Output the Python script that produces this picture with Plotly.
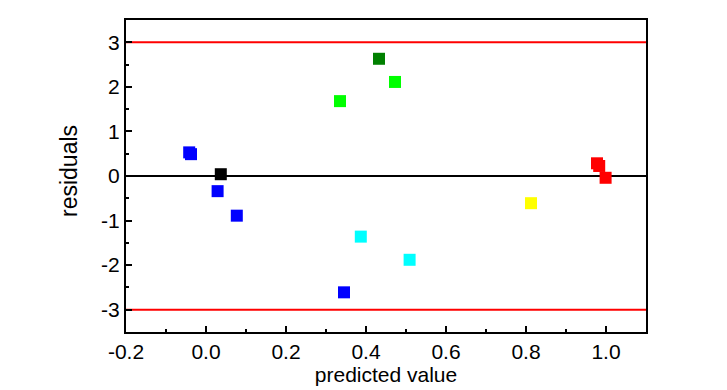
import plotly.graph_objects as go

# Data
blue_x = [-0.042, -0.0375, 0.029, 0.077, 0.345]
blue_y = [0.53, 0.49, -0.34, -0.89, -2.61]
black_x = [0.037]
black_y = [0.04]
green_x = [0.335, 0.4725]
green_y = [1.68, 2.11]
darkgreen_x = [0.4325]
darkgreen_y = [2.63]
cyan_x = [0.387, 0.509]
cyan_y = [-1.36, -1.88]
yellow_x = [0.8125]
yellow_y = [-0.61]
red_x = [0.9775, 0.983, 0.999]
red_y = [0.285, 0.225, -0.04]

limit_values = [3, -3]
zero_value = 0
x_range = [-0.2, 1.1]
y_range = [-3.5, 3.5]
x_ticks = [-0.2, 0.0, 0.2, 0.4, 0.6, 0.8, 1.0]
x_tick_labels = ["-0.2", "0.0", "0.2", "0.4", "0.6", "0.8", "1.0"]
y_ticks = [-3, -2, -1, 0, 1, 2, 3]
y_tick_labels = ["-3", "-2", "-1", "0", "1", "2", "3"]
x_title = "predicted value"
y_title = "residuals"

series = [
    (blue_x, blue_y, "#0000FF"),
    (green_x, green_y, "#00FF00"),
    (darkgreen_x, darkgreen_y, "#008000"),
    (cyan_x, cyan_y, "#00FFFF"),
    (yellow_x, yellow_y, "#FFFF00"),
    (red_x, red_y, "#FF0000"),
    (black_x, black_y, "#000000"),
]

fig = go.Figure()
for xs, ys, col in series:
    fig.add_trace(go.Scatter(
        x=xs, y=ys, mode="markers",
        marker=dict(symbol="square", size=12, color=col, line=dict(width=0)),
        showlegend=False,
    ))

for v in limit_values:
    fig.add_hline(y=v, line=dict(color="#FF0000", width=2), layer="below")
fig.add_hline(y=zero_value, line=dict(color="#000000", width=2), layer="below")

fam = "Liberation Sans, Arial, sans-serif"
tick_font = dict(family=fam, size=21, color="#000000")
xtitle_font = dict(family=fam, size=21, color="#000000")
ytitle_font = dict(family=fam, size=23, color="#000000")

fig.add_annotation(
    text=y_title, textangle=-90, font=ytitle_font, showarrow=False,
    xref="paper", yref="paper", x=0, y=0.5, xanchor="center", yanchor="middle",
    xshift=-57, yshift=5,
)

fig.update_layout(
    width=727, height=390,
    margin=dict(l=126, r=81, t=20, b=58),
    paper_bgcolor="white", plot_bgcolor="white",
    font=tick_font,
    xaxis=dict(
        range=x_range, tickvals=x_ticks, ticktext=x_tick_labels,
        showgrid=False, zeroline=False, automargin=False,
        showline=True, linecolor="black", linewidth=2, mirror=True,
        ticks="inside", ticklen=6, tickwidth=2, tickcolor="black",
        minor=dict(ticks="inside", ticklen=3, tickwidth=2, tickcolor="black", dtick=0.1, tick0=0, showgrid=False),
        title=dict(text=x_title, font=xtitle_font, standoff=0),
        tickfont=tick_font,
    ),
    yaxis=dict(
        range=y_range, tickvals=y_ticks, ticktext=y_tick_labels,
        showgrid=False, zeroline=False, automargin=False,
        showline=True, linecolor="black", linewidth=2, mirror=True,
        ticks="inside", ticklen=6, tickwidth=2, tickcolor="black",
        minor=dict(ticks="inside", ticklen=3, tickwidth=2, tickcolor="black", dtick=0.5, tick0=0, showgrid=False),
        tickfont=tick_font,
    ),
)

fig.write_html(
    "out.html",
    config={"displayModeBar": False},
    post_script="document.body.style.margin='0px';document.body.style.overflow='hidden';",
)
